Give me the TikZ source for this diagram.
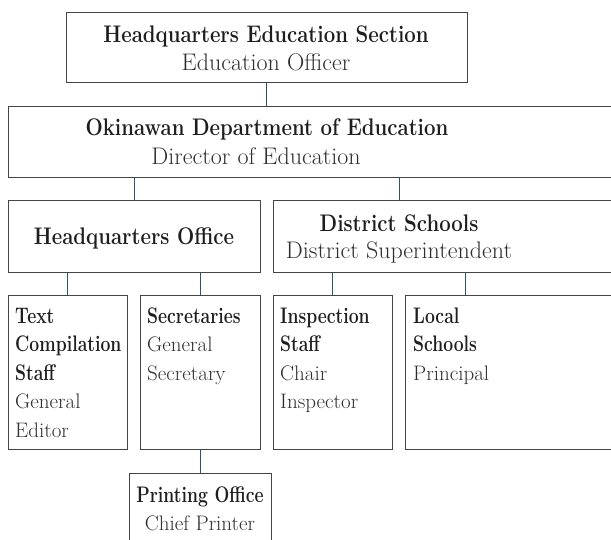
\documentclass[tikz,border=0pt]{standalone}
\usepackage{graphicx}
\definecolor{boxc}{HTML}{444444}
\definecolor{connc}{HTML}{2F5558}
\definecolor{txtc}{HTML}{2E2E2E}
\definecolor{boldc}{HTML}{1E1E1E}
\newcommand{\bx}[1]{\scalebox{0.85}[1]{\color{boldc}\bfseries #1}}
\newcommand{\sbx}[1]{{\fontsize{22.5}{28.5}\selectfont\scalebox{0.78}[1]{\color{boldc}\bfseries #1}}}
\begin{document}
\begin{tikzpicture}[x=1pt,y=-1pt,
  box/.style={draw=boxc, line width=0.9pt, inner sep=0pt, rectangle},
  conn/.style={draw=connc, line width=0.8pt},
  txt/.style={inner sep=0pt, font=\fontsize{24}{28.5}\selectfont, text=txtc, anchor=base},
  stxt/.style={txt, font=\fontsize{21}{28.5}\selectfont},
  ltxt/.style={stxt, anchor=base west}]
\useasboundingbox (0,0) rectangle (611,539);
% boxes
\node[box, minimum width=401, minimum height=70] (hq) at (266.5,47) {};
\node[box, minimum width=632, minimum height=71] (ok) at (324,141.5) {};
\node[box, minimum width=252, minimum height=72] (hqo) at (134,236) {};
\node[box, minimum width=367, minimum height=72] (ds) at (456.5,236) {};
\node[box, minimum width=119, minimum height=154] (tc) at (67.5,372) {};
\node[box, minimum width=120, minimum height=154] (sec) at (200,372) {};
\node[box, minimum width=119, minimum height=154] (ins) at (332.5,372) {};
\node[box, minimum width=235, minimum height=154] (ls) at (522.5,372) {};
\node[box, minimum width=142, minimum height=90] (pr) at (200,518) {};
% texts
\node[txt] (t1a) at (266,42) {\bx{Headquarters Education Section}};
\node[txt] (t1b) at (266,70) {Education Officer};
\node[txt] (t2a) at (267,135) {\bx{Okinawan Department of Education}};
\node[txt] (t2b) at (256,164) {Director of Education};
\node[txt] (t3) at (134,244) {\bx{Headquarters Office}};
\node[txt] (t4a) at (399,231) {\bx{District Schools}};
\node[txt] (t4b) at (399,258) {District Superintendent};
\node[ltxt] (t5a) at (15,323) {\sbx{Text}};
\node[ltxt] (t5b) at (15,351.5) {\sbx{Compilation}};
\node[ltxt] (t5c) at (15,380) {\sbx{Staff}};
\node[ltxt] (t5d) at (15,408.5) {General};
\node[ltxt] (t5e) at (15,437) {Editor};
\node[ltxt] (t6a) at (147,323) {\sbx{Secretaries}};
\node[ltxt] (t6b) at (147,351.5) {General};
\node[ltxt] (t6c) at (147,380) {Secretary};
\node[ltxt] (t7a) at (280,323) {\sbx{Inspection}};
\node[ltxt] (t7b) at (280,351.5) {\sbx{Staff}};
\node[ltxt] (t7c) at (280,380) {Chair};
\node[ltxt] (t7d) at (280,408.5) {Inspector};
\node[ltxt] (t8a) at (413,323) {\sbx{Local}};
\node[ltxt] (t8b) at (413,351.5) {\sbx{Schools}};
\node[ltxt] (t8c) at (413,380) {Principal};
\node[stxt] (t9a) at (200,502) {\sbx{Printing Office}};
\node[stxt] (t9b) at (200,530) {Chief Printer};
% connectors
\draw[conn] (hq.south) -- (hq.south |- ok.north);
\draw[conn] (hqo.north |- ok.south) -- (hqo.north);
\draw[conn] (ok.south -| t4a) -- (ds.north -| t4a);
\draw[conn] (tc.north |- hqo.south) -- (tc.north);
\draw[conn] (sec.north |- hqo.south) -- (sec.north);
\draw[conn] (ins.north |- ds.south) -- (ins.north);
\coordinate (lsx) at (465,0);
\draw[conn] (ds.south -| lsx) -- (ls.north -| lsx);
\draw[conn] (sec.south) -- (pr.north);
\end{tikzpicture}
\end{document}
